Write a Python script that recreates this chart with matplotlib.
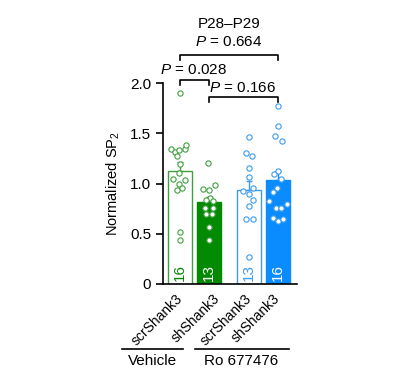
import matplotlib
matplotlib.use("Agg")
import matplotlib.pyplot as plt
import matplotlib.transforms as mtransforms

plt.rcParams['font.family'] = ['Liberation Sans', 'DejaVu Sans']
plt.rcParams['mathtext.fontset'] = 'custom'
plt.rcParams['mathtext.rm'] = 'Liberation Sans'
plt.rcParams['mathtext.it'] = 'Liberation Sans:italic'
plt.rcParams['font.size'] = 10.5

# data
labels = ["scrShank3", "shShank3", "scrShank3", "shShank3"]
groups = ["Vehicle", "Ro 677476"]
means = [1.12, 0.82, 0.94, 1.03]
sems = [0.09, 0.05, 0.08, 0.09]
counts = [16, 13, 13, 16]
pts1 = [1.90, 1.34, 1.31, 1.33, 1.34, 1.38, 1.27, 1.19, 1.10, 1.04, 1.03, 1.00, 0.96, 0.94, 0.52, 0.44]
pts2 = [1.20, 0.99, 0.95, 0.94, 0.86, 0.84, 0.83, 0.76, 0.76, 0.70, 0.70, 0.57, 0.44]
pts3 = [1.46, 1.30, 1.27, 1.15, 1.06, 0.96, 0.93, 0.90, 0.84, 0.78, 0.65, 0.65, 0.27]
pts4 = [1.77, 1.57, 1.47, 1.42, 1.12, 1.09, 1.04, 0.96, 0.92, 0.83, 0.80, 0.76, 0.76, 0.66, 0.63, 0.65]
pvals = ["0.028", "0.166", "0.664"]

# horizontal scatter of the dots (in bar units)
jit1 = [-0.01, -0.31, -0.17, -0.02, 0.17, 0.21, -0.11, 0.0, -0.02, -0.25, 0.17, -0.02, 0.08, -0.11, 0.0, 0.0]
jit2 = [-0.02, 0.21, -0.22, 0.0, 0.02, -0.11, 0.14, -0.14, 0.14, -0.11, 0.11, 0.0, 0.0]
jit3 = [0.01, -0.10, 0.11, 0.0, 0.0, 0.14, -0.20, -0.01, 0.13, -0.01, -0.10, 0.13, 0.0]
jit4 = [0.01, 0.02, -0.10, 0.14, 0.01, -0.12, 0.12, -0.03, -0.14, -0.28, 0.32, -0.05, 0.12, -0.17, 0.03, 0.20]

green = '#038a03'
green_l = '#40a040'
blue = '#0a8cff'
blue_l = '#3c9cf0'

xpos = [0, 1, 2.38, 3.36]
faces = ['white', green, 'white', blue]
edges = [green_l, green, blue_l, blue]
dotc = [green_l, green_l, blue_l, blue_l]
txtc = [green, 'white', blue_l, 'white']
points = [pts1, pts2, pts3, pts4]
jits = [jit1, jit2, jit3, jit4]

fig = plt.figure(figsize=(4.0, 3.78), dpi=100)
ax = fig.add_axes([0.4075, 0.2487, 0.335, 0.5317])

for i in range(4):
    ax.bar(xpos[i], means[i], width=0.83, color=faces[i], edgecolor=edges[i], linewidth=1.0, zorder=1)
    ax.errorbar(xpos[i], means[i], yerr=[[0], [sems[i]]], ecolor=edges[i], elinewidth=1.0,
                capsize=2.5, capthick=1.0, fmt='none', zorder=2)
    xs = [xpos[i] + j for j in jits[i]]
    ax.plot(xs, points[i], 'o', ms=3.8, mfc='white', mec=dotc[i], mew=0.8, zorder=3, clip_on=False)
    ax.text(xpos[i], 0.03, str(counts[i]), rotation=90, ha='center', va='bottom',
            color=txtc[i], fontsize=11, zorder=4)

ax.set_xlim(-0.586, 4.03)
ax.set_ylim(0, 2.0)
ax.set_yticks([0, 0.5, 1.0, 1.5, 2.0])
ax.set_yticklabels(["0", "0.5", "1.0", "1.5", "2.0"], fontsize=11)
ax.set_xticks(xpos)
ax.set_xticklabels(labels, rotation=45, ha='right', va='center', rotation_mode='anchor', fontsize=10)
ax.tick_params(axis='x', length=0, pad=9)
ax.tick_params(axis='y', length=5, width=1.2, direction='out')
# second label sits a little to the right in the original
lab = ax.get_xticklabels()[1]
lab.set_transform(lab.get_transform() + mtransforms.ScaledTranslation(6 / 72, 0, fig.dpi_scale_trans))
ax.spines['top'].set_visible(False)
ax.spines['right'].set_visible(False)
ax.spines['left'].set_linewidth(1.2)
ax.spines['bottom'].set_linewidth(1.2)
ax.set_ylabel("Normalized SP$_2$", labelpad=6, fontsize=10.5)


def bracket(x1, x2, y, txt, tx, ty, ha='center'):
    ax.plot([x1, x1, x2, x2], [y - 0.05, y, y, y - 0.05], color='black', lw=1.2, clip_on=False)
    ax.text(tx, ty, txt, ha=ha, va='center', fontsize=11)


bracket(xpos[0], xpos[1], 2.03, "$\\it{P}$ = " + pvals[0], 0.48, 2.13)
bracket(xpos[1], xpos[3], 1.86, "$\\it{P}$ = " + pvals[1], 2.17, 1.95)
bracket(xpos[0], xpos[3], 2.28, "$\\it{P}$ = " + pvals[2], 1.68, 2.41)
ax.text(1.68, 2.59, "P28\u2013P29", ha='center', va='center', fontsize=11)

tr = mtransforms.blended_transform_factory(ax.transData, fig.transFigure)
ax.plot([-2.01, 0.11], [0.0775, 0.0775], color='black', lw=1.2, transform=tr, clip_on=False)
ax.plot([0.52, 3.74], [0.0775, 0.0775], color='black', lw=1.2, transform=tr, clip_on=False)
ax.text(-0.95, 0.045, groups[0], ha='center', va='center', transform=tr, fontsize=11)
ax.text(2.1, 0.045, groups[1], ha='center', va='center', transform=tr, fontsize=11)

fig.savefig("out.png", dpi=100)
